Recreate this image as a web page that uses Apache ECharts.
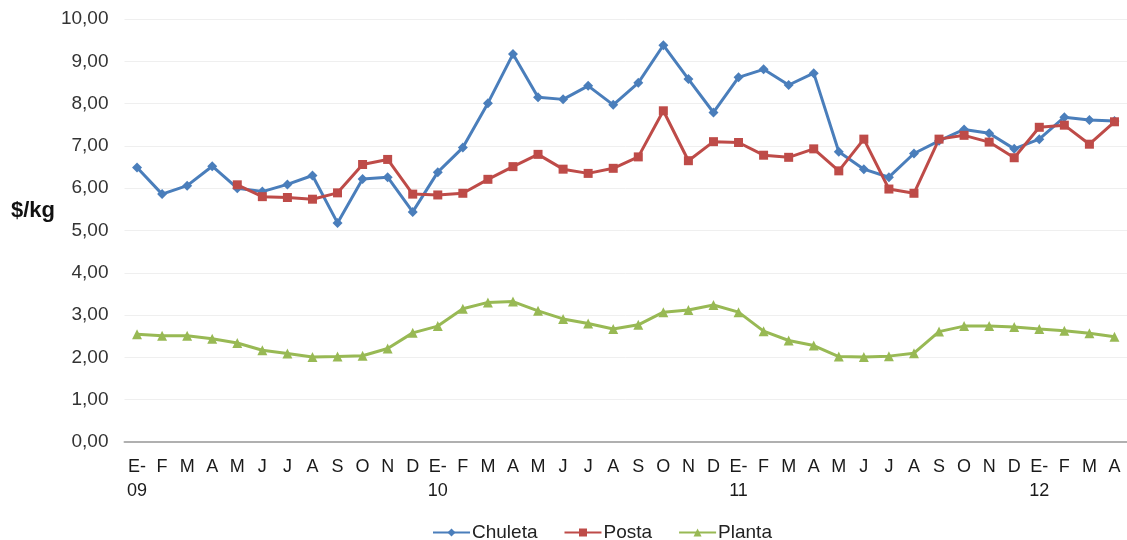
<!DOCTYPE html>
<html>
<head>
<meta charset="utf-8">
<script src="https://cdn.jsdelivr.net/npm/echarts@6/dist/echarts.min.js"></script>
<style>html,body{margin:0;padding:0;background:#fff}#c{width:1127px;height:540px}</style>
</head>
<body>
<div id="c"></div>
<script>
const categories = ['E-\n09','F','M','A','M','J','J','A','S','O','N','D',
  'E-\n10','F','M','A','M','J','J','A','S','O','N','D',
  'E-\n11','F','M','A','M','J','J','A','S','O','N','D',
  'E-\n12','F','M','A'];
const chuleta = [6.49,5.86,6.06,6.52,6.00,5.92,6.09,6.30,5.18,6.22,6.26,5.44,
  6.38,6.96,8.01,9.17,8.15,8.10,8.42,7.97,8.49,9.38,8.58,7.79,
  8.62,8.81,8.44,8.72,6.86,6.45,6.26,6.82,7.12,7.39,7.30,6.93,
  7.16,7.68,7.61,7.59];
const posta = [null,null,null,null,6.08,5.80,5.78,5.74,5.89,6.56,6.68,5.86,
  5.84,5.88,6.21,6.51,6.80,6.45,6.35,6.47,6.74,7.83,6.65,7.10,
  7.08,6.78,6.73,6.93,6.41,7.16,5.98,5.88,7.16,7.25,7.09,6.72,
  7.44,7.49,7.04,7.57];
const planta = [2.55,2.51,2.51,2.44,2.34,2.17,2.09,2.01,2.02,2.04,2.21,2.58,
  2.74,3.15,3.30,3.32,3.10,2.91,2.80,2.67,2.77,3.07,3.12,3.24,
  3.07,2.62,2.40,2.28,2.02,2.01,2.03,2.10,2.61,2.74,2.74,2.72,
  2.67,2.63,2.57,2.49];
const seriesNames = ['Chuleta','Posta','Planta'];
const colors = ['#4A7EBB','#BE4B48','#98B954'];

const chart = echarts.init(document.getElementById('c'));
const mk = (name, data, color, symbol, size) => ({
  name, type:'line', data, symbol, symbolSize:size, showAllSymbol:true,
  lineStyle:{color, width:3}, itemStyle:{color}, connectNulls:false, animation:false
});
chart.setOption({
  animation:false,
  color: colors,
  grid:{left:124.5, top:19, width:1005, height:423, containLabel:false},
  xAxis:{
    type:'category', data:categories, boundaryGap:true,
    axisLine:{lineStyle:{color:'#b0b0b0', width:2}},
    axisTick:{show:false},
    axisLabel:{interval:0, color:'#1a1a1a', fontFamily:'Liberation Sans, Arial, sans-serif', fontSize:18, lineHeight:24, margin:13, verticalAlign:'top'}
  },
  yAxis:{
    type:'value', min:0, max:10, interval:1,
    axisLine:{show:false}, axisTick:{show:false},
    splitLine:{lineStyle:{color:'#efefef', width:1}},
    axisLabel:{color:'#333', fontFamily:'Liberation Sans, Arial, sans-serif', fontSize:19, margin:16,
      formatter:v=>v.toFixed(2).replace('.',',')}
  },
  legend:{
    top:518, left:427, itemWidth:37, itemHeight:10, itemGap:26,
    textStyle:{fontFamily:'Liberation Sans, Arial, sans-serif', fontSize:19, color:'#222', padding:[0,0,0,-3]},
    data:seriesNames
  },
  graphic:[{type:'text', left:11, top:200, style:{text:'$/kg', font:'bold 22px Liberation Sans, Arial, sans-serif', fill:'#111'}}],
  series:[
    mk(seriesNames[0], chuleta, colors[0], 'diamond', 10),
    mk(seriesNames[1], posta, colors[1], 'rect', 9),
    mk(seriesNames[2], planta, colors[2], 'triangle', 10)
  ]
});
</script>
</body>
</html>
